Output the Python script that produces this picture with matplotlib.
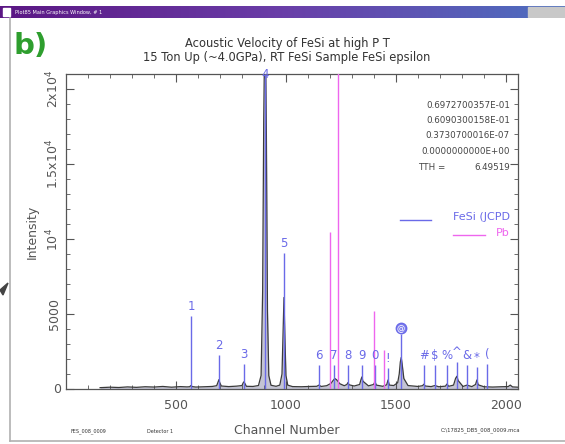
import numpy as np
import matplotlib
matplotlib.use('Agg')
import matplotlib.pyplot as plt
from matplotlib.patches import Rectangle, Polygon
from matplotlib.lines import Line2D
from matplotlib.colors import LinearSegmentedColormap

# ── Measured spectrum (channel, counts) ───────────────────────────────────────
trace_ch = [155, 200, 240, 280, 320, 360, 400, 440, 480, 520, 550, 562, 568, 574, 590,
            630, 665, 685, 691, 695, 699, 706, 740, 775, 800, 806, 809, 813, 820, 850,
            875, 887, 894, 899, 903, 907, 911, 916, 922, 932, 955, 972, 982, 987, 991,
            995, 1000, 1008, 1030, 1070, 1110, 1140, 1150, 1160, 1185, 1205, 1214, 1222, 1230, 1245,
            1265, 1277, 1282, 1287, 1310, 1335, 1341, 1345, 1350, 1375, 1398, 1405, 1411, 1440, 1458,
            1464, 1470, 1490, 1508, 1515, 1520, 1524, 1528, 1536, 1555, 1600, 1621, 1627, 1633, 1660,
            1677, 1695, 1725, 1732, 1740, 1762, 1771, 1777, 1783, 1805, 1823, 1845, 1862, 1868, 1874,
            1900, 1940, 1980, 2010, 2020, 2030, 2055]
trace_counts = [90, 120, 100, 140, 110, 150, 130, 170, 120, 160, 140, 150, 230, 160, 130,
                150, 170, 220, 450, 620, 430, 200, 160, 190, 230, 420, 480, 380, 180, 170,
                230, 900, 6500, 18000, 23000, 23000, 17000, 5200, 900, 250, 180, 260, 1000, 3800, 6100,
                3600, 900, 260, 160, 150, 170, 180, 260, 170, 220, 380, 560, 700, 620, 350,
                220, 300, 430, 280, 200, 300, 620, 800, 520, 210, 300, 480, 260, 180, 280,
                600, 260, 230, 420, 1000, 1800, 2100, 1700, 700, 230, 170, 220, 320, 200, 160,
                230, 150, 190, 330, 180, 260, 700, 850, 560, 170, 260, 160, 300, 600, 280,
                150, 130, 150, 160, 260, 140, 120]

# ── Reference lines ───────────────────────────────────────────────────────────
fesi_ch = [568, 695, 809, 905, 991, 1150, 1218, 1282, 1345, 1405, 1464, 1523,
           1627, 1677, 1732, 1777, 1823, 1868, 1914]
fesi_height = [4900, 2300, 1700, 21000, 9100, 1600, 1600, 1600, 1600, 1600, 1400, 3700,
               1600, 1600, 1600, 1800, 1600, 1500, 1700]
fesi_marks = list("1234567890!@#$%^&*(")

pb_ch = [1200, 1236, 1400, 1445]
pb_height = [10500, 25000, 5200, 2600]

x_ticks = [500, 1000, 1500, 2000]
y_ticks = [0, 5000, 10000, 15000, 20000]
y_ticklabels = ['0', '5000', r'10$^4$', r'1.5x10$^4$', r'2x10$^4$']

param_lines = ['0.6972700357E-01', '0.6090300158E-01',
               '0.3730700016E-07', '0.0000000000E+00']
tth_value = '6.49519'

W, H = 565, 444
BLUE = '#6a6ae8'
PINK = '#ee66ee'
GREY_TXT = '#555555'


def fx(px):
    return px / W


def fy(py):
    return 1 - py / H


fig = plt.figure(figsize=(W / 100, H / 100), dpi=100)
fig.patch.set_facecolor('white')

# ── Window chrome ─────────────────────────────────────────────────────────────
bar = fig.add_axes([fx(0), fy(18), 1, 12 / H])
grad = np.linspace(0, 1, 256).reshape(1, -1)
cm = LinearSegmentedColormap.from_list('bar', ['#5b1784', '#6a3ea8', '#4d6fc0'])
bar.imshow(grad, aspect='auto', cmap=cm, extent=[0, 1, 0, 1])
bar.set_axis_off()
bar.add_patch(Rectangle((0.006, 0.2), 0.012, 0.6, color='white', transform=bar.transAxes))
bar.add_patch(Rectangle((0.935, 0.05), 0.065, 0.9, color='#c8c8c8', transform=bar.transAxes))
bar.text(0.026, 0.5, 'Plot85 Main Graphics Window, # 1', color='white', fontsize=3.6,
         va='center', ha='left', transform=bar.transAxes)

fig.add_artist(Line2D([fx(10), fx(10)], [fy(18), fy(441)], color='#b0b0b0', lw=1.2))
fig.add_artist(Line2D([fx(10), fx(565)], [fy(441), fy(441)], color='#b0b0b0', lw=1.2))
# pointer arrowhead at the left edge
fig.add_artist(Polygon([[fx(0), fy(290)], [fx(8), fy(283)], [fx(3), fy(295)]],
                       closed=True, color='#444444'))

fig.text(fx(14), fy(46), 'b)', color='#2e9e2e', fontsize=21, fontweight='bold',
         va='center', ha='left')
fig.text(fx(287), fy(43), 'Acoustic Velocity of FeSi at high P T', fontsize=8.3,
         color='#333333', ha='center', va='center')
fig.text(fx(287), fy(57), '15 Ton Up (~4.0GPa), RT FeSi Sample FeSi epsilon', fontsize=8.3,
         color='#333333', ha='center', va='center')

# ── Main plot ─────────────────────────────────────────────────────────────────
x0, x1, y0, y1 = 66, 518, 74, 389
ax = fig.add_axes([fx(x0), fy(y1), (x1 - x0) / W, (y1 - y0) / H])
ax.set_xlim(0, 2055)
ax.set_ylim(0, 21000)

ax.fill_between(trace_ch, trace_counts, 0, color='#c4c4d4', lw=0)
ax.plot(trace_ch, trace_counts, color='#3a3a3a', lw=0.9)

ax.vlines(fesi_ch, 0, fesi_height, color=BLUE, lw=1.0, zorder=3)
for ch, h, m in zip(fesi_ch, fesi_height, fesi_marks):
    if m == '@':
        ax.plot(ch, h + 350, 'o', ms=7.5, mfc='#8080ee', mec=BLUE, zorder=4)
        ax.text(ch, h + 350, m, color='white', fontsize=6, ha='center', va='center', zorder=5)
    elif h >= 21000:
        # tallest reflection: mark sits on the top frame
        ax.text(ch, 21000, m, color=BLUE, fontsize=8.5, ha='center', va='center',
                clip_on=False, zorder=4)
    else:
        ax.text(ch, h + 200, m, color=BLUE, fontsize=8.5, ha='center', va='bottom',
                clip_on=False, zorder=4)
ax.vlines(pb_ch, 0, pb_height, color=PINK, lw=1.0, zorder=3)

ax.set_xticks(x_ticks)
ax.set_xticks(np.arange(0, 2056, 100), minor=True)
ax.set_yticks(y_ticks)
ax.set_yticklabels(y_ticklabels)
ax.set_yticks(np.arange(0, 21001, 1000), minor=True)
ax.tick_params(which='both', direction='in', top=True, right=True, colors='#555555',
               labelsize=9, labelcolor=GREY_TXT)
ax.tick_params(which='major', length=6, width=0.8)
ax.tick_params(which='minor', length=3, width=0.6)
ax.tick_params(axis='x', pad=7)
for lab in ax.get_yticklabels():
    lab.set_rotation(90)
    lab.set_va('center')
ax.get_yticklabels()[0].set_rotation(0)
for s in ax.spines.values():
    s.set_color('#555555')
    s.set_linewidth(0.9)

ax.set_ylabel('Intensity', fontsize=9, color=GREY_TXT, labelpad=4)
fig.text(fx(287), fy(430), 'Channel Number', fontsize=9, color=GREY_TXT,
         ha='center', va='center')

# Fit parameters and legend inside the frame
for i, s in enumerate(param_lines):
    fig.text(fx(510), fy(105 + 15.5 * i), s, fontsize=6.3, color='#444444',
             ha='right', va='center')
fig.text(fx(418), fy(167), 'TTH =', fontsize=6.3, color='#444444', ha='left', va='center')
fig.text(fx(510), fy(167), tth_value, fontsize=6.3, color='#444444', ha='right', va='center')

fig.add_artist(Line2D([fx(400), fx(431)], [fy(220), fy(220)], color=BLUE, lw=1.0))
fig.text(fx(510), fy(217), 'FeSi (JCPD', fontsize=8, color=BLUE, ha='right', va='center')
fig.add_artist(Line2D([fx(453), fx(485)], [fy(235), fy(235)], color=PINK, lw=1.0))
fig.text(fx(510), fy(233), 'Pb', fontsize=8, color=PINK, ha='right', va='center')

# Footer
fig.text(fx(88), fy(431), 'FES_008_0009', fontsize=3.5, color='#333333', ha='center', va='center')
fig.text(fx(160), fy(431), 'Detector 1', fontsize=3.5, color='#333333', ha='center', va='center')
fig.text(fx(520), fy(430), 'C:\\17825_DB5_008_0009.mca', fontsize=3.8, color='#333333',
         ha='right', va='center')

fig.savefig('out.png', dpi=100)
